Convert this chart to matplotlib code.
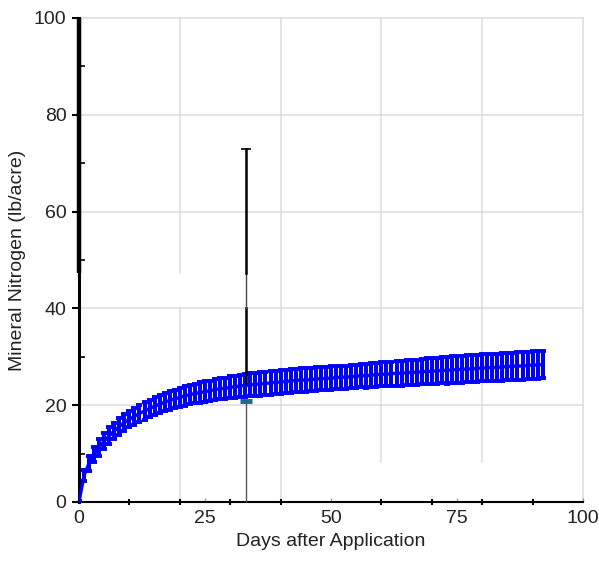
import numpy as np
import matplotlib
matplotlib.use("Agg")
import matplotlib.pyplot as plt

plt.rcParams['font.family'] = ['Liberation Sans', 'DejaVu Sans']

# ---- data -------------------------------------------------------------
days = list(range(93))
mineral_n = [0.0, 5.5, 8.0, 9.8, 11.3, 12.6, 13.7, 14.7, 15.6, 16.4,
             17.1, 17.7, 18.3, 18.8, 19.3, 19.8, 20.2, 20.6, 21.0, 21.3,
             21.6, 21.9, 22.2, 22.4, 22.6, 22.8, 23.0, 23.2, 23.4, 23.5,
             23.7, 23.8, 24.0, 24.1, 24.2, 24.3, 24.4, 24.5, 24.6, 24.7,
             24.8, 24.9, 25.0, 25.1, 25.2, 25.2, 25.3, 25.4, 25.5, 25.5,
             25.6, 25.7, 25.8, 25.8, 25.9, 26.0, 26.1, 26.1, 26.2, 26.3,
             26.4, 26.4, 26.5, 26.6, 26.6, 26.7, 26.8, 26.8, 26.9, 27.0,
             27.0, 27.1, 27.2, 27.2, 27.3, 27.4, 27.4, 27.5, 27.5, 27.6,
             27.7, 27.7, 27.8, 27.8, 27.9, 28.0, 28.0, 28.1, 28.1, 28.2,
             28.3, 28.3, 28.4]
mineral_err = [0.3, 1.2, 1.5, 1.6, 1.7, 1.7, 1.7, 1.7, 1.7, 1.7,
               1.7, 1.8, 1.8, 1.8, 1.8, 1.8, 1.9, 1.9, 1.9, 1.9,
               1.9, 2.0, 2.0, 2.0, 2.1, 2.1, 2.1, 2.2, 2.2, 2.2,
               2.3, 2.3, 2.3, 2.4, 2.4, 2.4, 2.4, 2.4, 2.4, 2.4,
               2.4, 2.4, 2.4, 2.4, 2.4, 2.4, 2.4, 2.4, 2.4, 2.4,
               2.4, 2.4, 2.4, 2.4, 2.4, 2.4, 2.4, 2.5, 2.5, 2.5,
               2.5, 2.5, 2.5, 2.6, 2.6, 2.6, 2.6, 2.6, 2.6, 2.7,
               2.7, 2.7, 2.7, 2.8, 2.8, 2.8, 2.8, 2.8, 2.8, 2.8,
               2.8, 2.8, 2.8, 2.8, 2.8, 2.8, 2.8, 2.8, 2.8, 2.8,
               2.8, 2.8, 2.8]

obs_day = 33.2
obs_value = 20.9
obs_upper = 73.0
obs_upper_start = 24.5

x_tick_labels = [0, 25, 50, 75, 100]
y_tick_labels = [0, 20, 40, 60, 80, 100]

# ---- figure -----------------------------------------------------------
fig = plt.figure(figsize=(5.99, 5.64), dpi=100)
ax = fig.add_axes([79/599, 1-502/564, (583-79)/599, (502-18)/564])
ax.set_xlim(0, 100)
ax.set_ylim(0, 100)

grid_c = '#dcdcdc'
# horizontal grid
for yv in [20, 40, 60, 80, 100]:
    ax.plot([0, 100], [yv, yv], color=grid_c, lw=1.1, zorder=0.5, clip_on=False)
# vertical grid (with the breaks seen in the reference)
vgrid = [(20, 0, 40), (20, 47.3, 100), (40, 0, 100), (60, 8.3, 100),
         (80, 8.3, 100), (100, 0, 100)]
for xv, y0, y1 in vgrid:
    ax.plot([xv, xv], [y0, y1], color=grid_c, lw=1.1, zorder=0.5, clip_on=False)

# blue error-bar band
ax.errorbar(days, mineral_n, yerr=mineral_err, fmt='none', ecolor='#0000ff',
            elinewidth=2.9, capsize=2.2, capthick=2.8, zorder=3)
ax.plot(days, mineral_n, color='#0000ff', lw=2.4, zorder=3)

# single observation with whisker
ax.plot([obs_day, obs_day], [0, obs_value], color='#555555', lw=1.0, zorder=4)
ax.plot([obs_day, obs_day], [obs_upper_start, 40], color='black', lw=1.8, zorder=4)
ax.plot([obs_day, obs_day], [40, 47.3], color='#444444', lw=1.0, zorder=4)
ax.plot([obs_day, obs_day], [47.3, obs_upper], color='black', lw=1.8, zorder=4)
ax.plot([obs_day], [obs_upper], marker='_', ms=7, mew=1.2, color='black', zorder=4)
ax.plot([obs_day], [obs_value], marker='_', ms=8, mew=3.5, color='#1d6a86', zorder=5)

# spines
for s in ['top', 'right']:
    ax.spines[s].set_visible(False)
ax.spines['bottom'].set_linewidth(1.5)
ax.spines['left'].set_linewidth(2.2)
ax.plot([0, 0], [47.3, 100], color='black', lw=3.2, zorder=6, clip_on=False,
        solid_capstyle='butt')

# ticks
ax.set_yticks(y_tick_labels)
ax.set_yticks([10, 30, 50, 70, 90], minor=True)
ax.tick_params(axis='y', which='major', direction='out', length=5, width=1.5,
               labelsize=14, pad=4, colors='black', labelcolor='#222222')
ax.tick_params(axis='y', which='minor', direction='in', length=4, width=1.2)

ax.set_xticks(x_tick_labels)
ax.set_xticks([10, 20, 30, 40, 50, 60, 70, 80, 90], minor=True)
ax.tick_params(axis='x', which='major', direction='in', length=3, width=1.0,
               color='#999999', labelsize=14, pad=6, labelcolor='#222222')
ax.tick_params(axis='x', which='minor', direction='inout', length=5, width=1.5,
               color='black')

ax.set_xlabel('Days after Application', fontsize=14, color='#222222', labelpad=4)
ax.set_ylabel('Mineral Nitrogen (lb/acre)', fontsize=14, color='#222222', labelpad=6)

fig.savefig('out.png', dpi=100)
